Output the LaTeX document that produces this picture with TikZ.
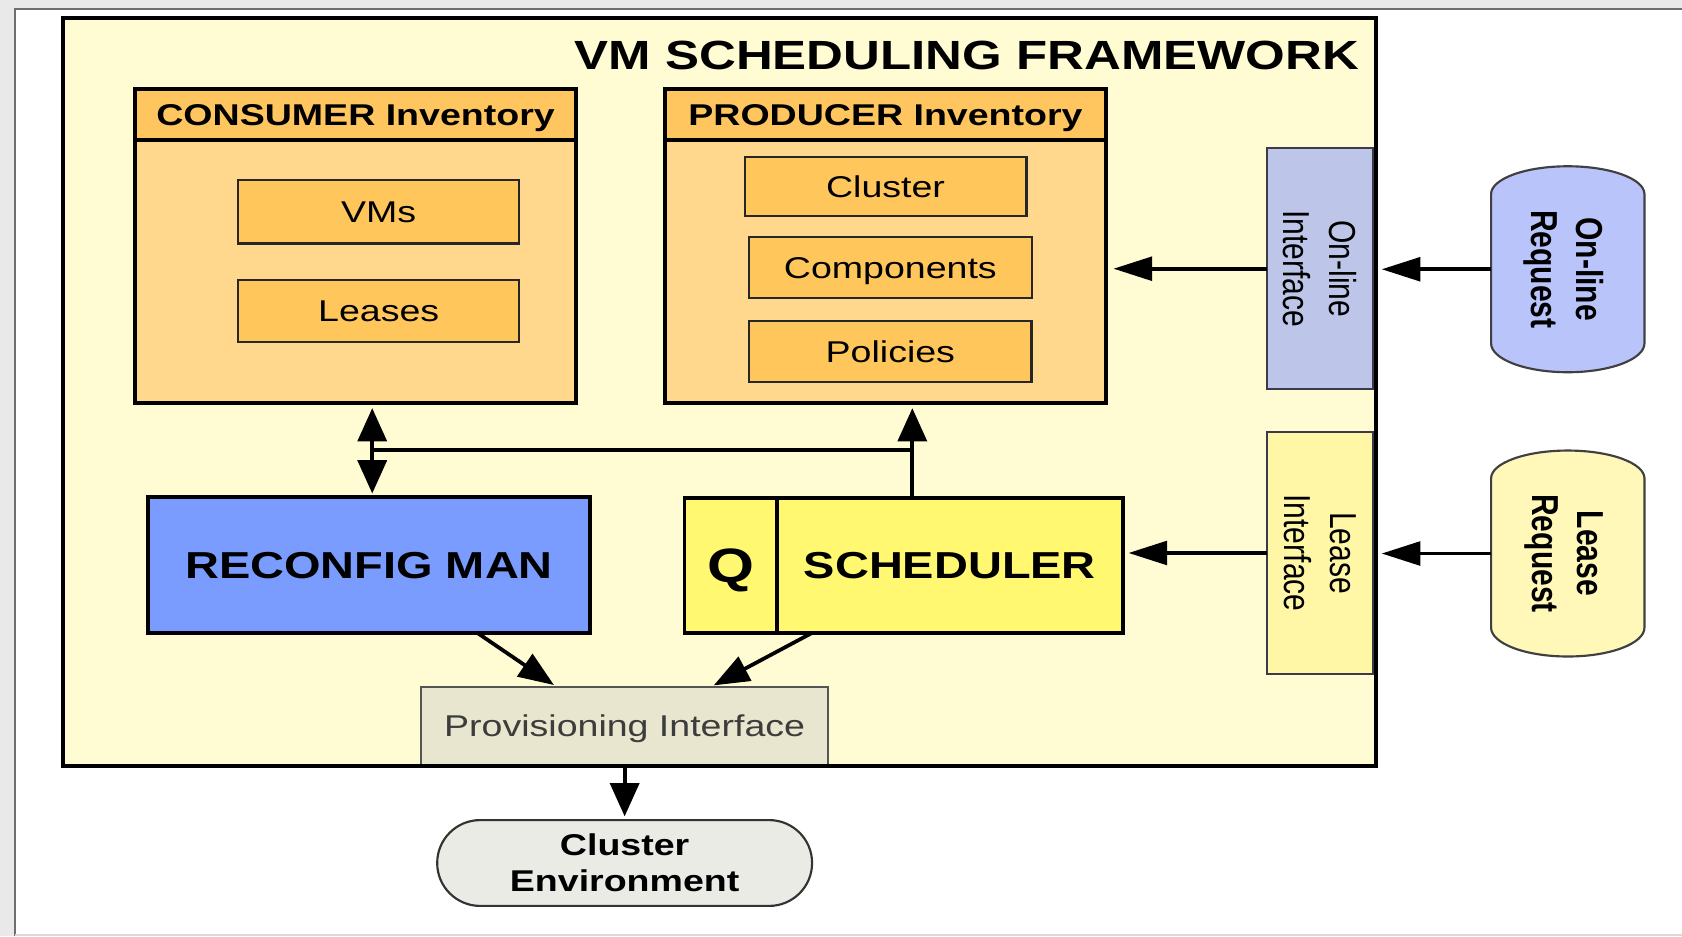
\documentclass[tikz,border=0pt]{standalone}
\usepackage{fontspec}
\setmainfont{Liberation Sans}[FakeStretch=1.25]
\newfontfamily\rotfont{Liberation Sans}
\usetikzlibrary{arrows.meta}

\definecolor{winshade}{HTML}{E9E9E9}
\definecolor{winline}{HTML}{6E6E6E}
\definecolor{framefill}{HTML}{FFFCD3}
\definecolor{invhead}{HTML}{FFC55E}
\definecolor{invbody}{HTML}{FFD78D}
\definecolor{itemfill}{HTML}{FFC65B}
\definecolor{reconfill}{HTML}{7B9CFF}
\definecolor{schedfill}{HTML}{FFF870}
\definecolor{onliffill}{HTML}{BDC6E9}
\definecolor{leaseiffill}{HTML}{FFF7A6}
\definecolor{onreqfill}{HTML}{B8C4FA}
\definecolor{leasereqfill}{HTML}{FFF8B9}
\definecolor{provfill}{HTML}{E8E6CF}
\definecolor{provline}{HTML}{555555}
\definecolor{provtext}{HTML}{3C3C3C}
\definecolor{envfill}{HTML}{EBEBE6}
\definecolor{ifline}{HTML}{3A3A4A}

\newcommand\setfs[1]{\fontsize{#1}{34}\selectfont}

\begin{document}
\begin{tikzpicture}[x=1pt, y=1pt,
  % text box cut to the cap height, so the capitals sit centred
  caps/.style={text height=0.716*#1 pt, text depth=0pt},
  box/.style={draw=black, line width=3.5pt, inner sep=0pt, outer sep=0pt},
  item/.style={draw=black!85, line width=2.2pt, fill=itemfill, inner sep=0pt,
    outer sep=0pt, caps=28, font=\setfs{28}},
  rotbox/.style={draw=ifline, line width=2pt, rotate=-90, yscale=1.25,
    align=center, inner sep=0pt, outer sep=0pt, font=\rotfont\setfs{28},
    minimum width=225pt, minimum height=79.2pt},
  reqlabel/.style={rotate=-90, yscale=1.25, align=center, inner sep=0pt,
    outer sep=0pt, text depth=0pt, font=\rotfont\bfseries\setfs{28},
    minimum width=192pt, minimum height=114.4pt},
  reqline/.style={draw=black!75, line width=2pt},
  conn/.style={line width=3.5pt, draw=black},
  harrow/.style={-{Triangle[length=36pt,width=22pt]}},
  varrow/.style={-{Triangle[length=31pt,width=27pt]}},
  darrow/.style={-{Triangle[length=33pt,width=25pt]}}]

\useasboundingbox (0,0) rectangle (1568,-873);

% window surround
\fill[winshade] (0,0) rectangle (1568,-873);
\fill[white] (14,-8) rectangle (1568,-871);
\draw[line width=2pt, winline] (14,-873) -- (14,-8) -- (1568,-8);
\draw[line width=1.2pt, black!15] (14,-871.5) -- (1568,-871.5);

% framework panel
\node[box, fill=framefill, minimum width=1224pt, minimum height=697pt] (frame) at (671,-365.5) {};
\node[anchor=east, inner sep=0pt, caps=38,
  font=\bfseries\setfs{38}] (title) at (1267,-51.3) {VM SCHEDULING FRAMEWORK};

% consumer inventory
\node[box, fill=invbody, minimum width=411pt, minimum height=293pt] (cons) at (331.5,-229.5) {};
\node[box, fill=invhead, minimum width=411pt, minimum height=47.5pt, caps=28,
  font=\bfseries\setfs{28}] (conshead) at (331.5,-106.75) {CONSUMER Inventory};
\node[item, minimum width=262pt, minimum height=59pt] (vms) at (353,-197.5) {VMs};
\node[item, minimum width=262pt, minimum height=58pt] (leases) at (353,-290) {Leases};

% producer inventory
\node[box, fill=invbody, minimum width=411pt, minimum height=293pt] (prod) at (825.5,-229.5) {};
\node[box, fill=invhead, minimum width=411pt, minimum height=47.5pt, caps=28,
  font=\bfseries\setfs{28}] (prodhead) at (825.5,-106.75) {PRODUCER Inventory};
\node[item, minimum width=262.5pt, minimum height=55pt] (cluster) at (825.5,-174) {Cluster};
\node[item, minimum width=264pt, minimum height=57pt] (components) at (830,-249.5) {Components};
\node[item, minimum width=263pt, minimum height=57pt] (policies) at (830,-327.5) {Policies};

% managers
\node[box, fill=reconfill, minimum width=412pt, minimum height=127pt, caps=35,
  font=\bfseries\setfs{35}] (reconf) at (344,-526.5) {RECONFIG MAN};
\node[box, fill=schedfill, minimum width=86pt, minimum height=126pt, caps=45,
  font=\bfseries\setfs{45}] (q) at (681,-527) {Q};
\node[box, fill=schedfill, minimum width=323pt, minimum height=126pt, caps=35,
  font=\bfseries\setfs{35}] (sched) at (885.5,-527) {SCHEDULER};

% provisioning and cluster
\node[draw=provline, line width=2pt, fill=provfill, inner sep=0pt, outer sep=0pt,
  caps=28, text=provtext, font=\setfs{28},
  minimum width=379.5pt, minimum height=72.5pt] (prov) at (582.3,-676.8) {Provisioning Interface};
\node[draw=black!80, line width=2pt, fill=envfill, rounded corners=40pt,
  inner sep=0pt, outer sep=0pt, align=center, font=\bfseries\setfs{28},
  minimum width=349.5pt, minimum height=80pt] (env) at (582.3,-804.5) {Cluster\\Environment};

% interfaces
\node[rotbox, fill=onliffill] (onif) at (1230.5,-250.5) {On-line\\Interface};
\node[rotbox, fill=leaseiffill] (leaseif) at (1230.5,-515.5) {Lease\\Interface};

% requests
\coordinate (onreqc) at (1461.5,-251);
\coordinate (leasereqc) at (1461.5,-516);
\draw[reqline, fill=onreqfill] ([shift={(-71.5,70)}]onreqc)
  arc[start angle=180, end angle=0, x radius=71.5, y radius=26]
  -- ([shift={(71.5,-69)}]onreqc)
  arc[start angle=0, end angle=-180, x radius=71.5, y radius=27] -- cycle;
\draw[reqline, fill=leasereqfill] ([shift={(-71.5,70)}]leasereqc)
  arc[start angle=180, end angle=0, x radius=71.5, y radius=26]
  -- ([shift={(71.5,-69)}]leasereqc)
  arc[start angle=0, end angle=-180, x radius=71.5, y radius=27] -- cycle;
\node[reqlabel] (onreq) at (onreqc) {On-line\\Request};
\node[reqlabel] (leasereq) at (leasereqc) {Lease\\Request};

% request flow
\draw[conn, harrow, shorten >=8pt] (onreq.south) -- (onreq.south -| onif.north);
\draw[conn, harrow, shorten >=7pt] (onif.south) -- (onif.south -| prod.east);
\draw[conn, harrow, shorten >=8pt] (leasereq.south) -- (leasereq.south -| leaseif.north);
\draw[conn, harrow, shorten >=5pt] (leaseif.south) -- (leaseif.south -| sched.east);

% inventory links
\coordinate (jr) at (850.5,-419.5);
\coordinate (jl) at (347,-419.5);
\draw[conn, varrow, shorten >=4.5pt] (jr |- sched.north) -- (jr |- prod.south);
\draw[conn] (jr) -- (jl);
\draw[conn, varrow, shorten >=4.5pt] (jl) -- (jl |- cons.south);
\draw[conn, varrow, shorten >=3pt] (jl) -- (jl |- reconf.north);

% provisioning links
\draw[conn, darrow, shorten >=3.5pt] ([xshift=101pt]reconf.south) -- ([xshift=-63pt]prov.north);
\draw[conn, darrow, shorten >=3.5pt] ([xshift=-128.5pt]sched.south) -- ([xshift=80pt]prov.north);
\draw[conn, varrow, shorten >=3.5pt] (prov.south) -- (env.north);

% panel border on top
\draw[line width=3.5pt] (frame.south west) rectangle (frame.north east);

\end{tikzpicture}
\end{document}
